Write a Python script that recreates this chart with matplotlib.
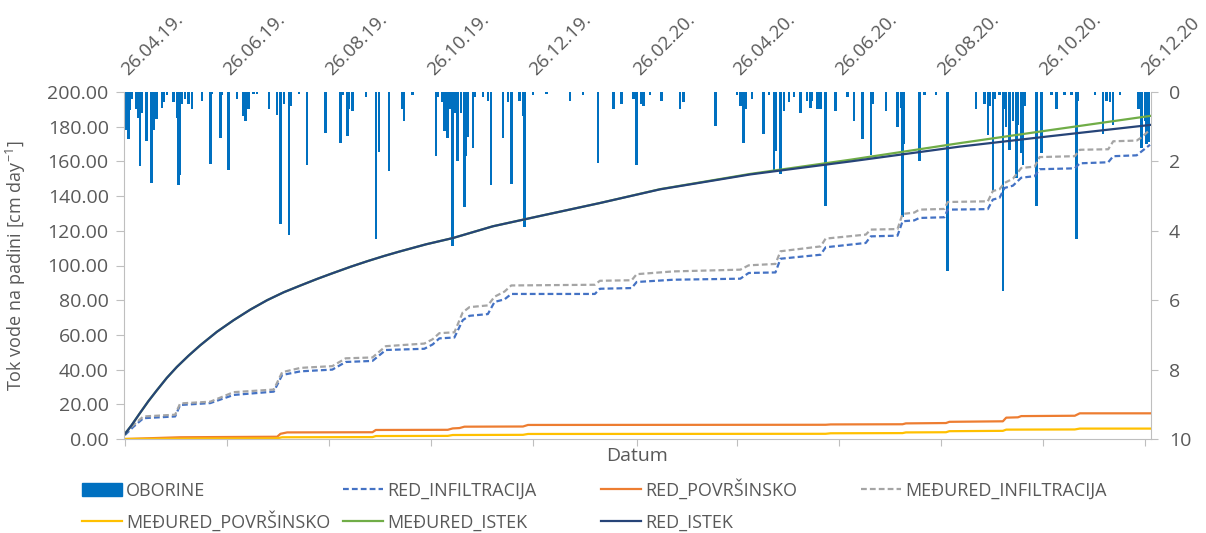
import numpy as np
import pandas as pd
import matplotlib
matplotlib.use('Agg')
from matplotlib import pyplot as plt
from matplotlib.patches import Rectangle
from matplotlib.lines import Line2D
from matplotlib.transforms import offset_copy

plt.rcParams['font.family'] = ['Open Sans', 'DejaVu Sans']
plt.rcParams['mathtext.fontset'] = 'custom'
plt.rcParams['mathtext.rm'] = 'Open Sans'
plt.rcParams['mathtext.default'] = 'regular'

# days counted from 26.04.2019
start = pd.Timestamp('2019-04-26')

# OBORINE (precipitation), right axis
rain_day = [1, 2, 3, 4, 7, 8, 9, 10, 13, 16, 17, 19, 22, 23, 25, 29, 31, 32, 33, 34,
            36, 38, 40, 46, 51, 52, 57, 58, 62, 67, 71, 72, 74, 77, 79, 86, 91, 93, 95, 98,
            99, 104, 109, 120,
            129, 130, 133, 134, 136, 144, 150, 152, 158, 166, 167, 172, 186, 187, 190, 191,
            193, 194, 196, 197, 198, 199, 201, 203, 204, 205, 208, 209, 214, 217, 219, 226,
            229, 231, 236, 238, 239, 244,
            252, 266, 274, 283, 292, 297, 304, 306, 309, 310, 314, 321, 332, 334, 353, 366,
            368, 369, 370, 371,
            375, 382, 385, 388, 389, 392, 394, 397, 400, 404, 408, 410, 411, 414, 416, 419,
            425, 432, 436, 441, 446, 447, 455, 462, 464, 465, 466, 475, 478, 485, 492,
            509, 514, 516, 517, 519, 520, 523, 525, 526, 527, 529, 531, 533, 534, 536, 537,
            538, 545, 548, 554, 557, 562, 566, 569, 570, 580, 585, 587, 589, 591, 595, 606,
            608, 610, 611, 612]
rain_mm = [1.1, 1.35, 0.52, 0.2, 0.5, 0.75, 2.13, 0.6, 1.4, 2.62, 1.1, 0.78, 0.46, 0.3, 0.1, 0.3, 0.75, 2.68, 2.39, 0.35,
           0.2, 0.36, 0.5, 0.25, 2.07, 0.07, 1.33, 0.1, 2.25, 0.2, 0.7, 0.84, 0.5, 0.07, 0.07, 0.5, 0.65, 3.8, 0.36, 4.12,
           0.4, 0.07, 2.1, 1.18,
           1.47, 0.1, 1.27, 0.5, 0.55, 0.15, 4.24, 1.73, 2.27, 0.5, 0.84, 0.1, 1.84, 0.15, 0.3, 1.12,
           1.33, 0.5, 4.44, 0.6, 0.4, 2.0, 0.6, 3.3, 1.84, 1.3, 1.6, 0.15, 0.15, 0.25, 2.68, 1.33,
           0.3, 2.65, 0.25, 0.7, 3.9, 0.1,
           0.05, 0.25, 0.1, 2.04, 0.5, 0.35, 0.2, 2.1, 0.35, 0.4, 0.1, 0.25, 0.5, 0.3, 0.98, 0.1,
           0.4, 0.4, 1.47, 0.5,
           0.2, 1.2, 0.1, 2.25, 1.7, 2.36, 0.55, 0.3, 0.15, 0.6, 0.25, 0.45, 0.25, 0.5, 0.5, 3.29,
           0.55, 0.15, 0.84, 1.35, 1.82, 0.35, 0.55, 1.0, 0.45, 3.6, 1.5, 2.0, 0.1, 0.1, 5.16,
           0.5, 0.35, 1.25, 0.4, 2.85, 0.2, 0.1, 5.74, 0.5, 1.0, 1.67, 0.84, 2.48, 0.95, 1.76, 2.1,
           0.4, 3.29, 1.76, 0.1, 0.5, 0.1, 0.1, 4.24, 0.25, 0.1, 1.2, 0.25, 0.3, 0.95, 0.1, 0.5,
           1.6, 0.85, 1.5, 1.45]

# infiltration (cumulative)
inf_day = [0, 5, 11, 30, 33, 51, 65, 89, 94, 105, 124, 132, 148, 156, 179, 184, 188, 197, 202, 206,
           217, 221, 227, 231, 281, 284, 303, 306, 328, 368, 373, 389, 392, 416, 419, 443, 446, 462, 465, 472,
           475, 490, 492, 516, 519, 523, 526, 531, 536, 544, 547, 568, 571, 588, 591, 605, 608, 613]
red_inf = [2.3, 7, 12, 13, 19.6, 20.7, 25.4, 27.3, 36.9, 39, 40, 44.4, 45, 51.3, 52, 54.5, 58, 58.5, 68.5, 71,
           72, 79, 80.5, 83.6, 83.6, 86.6, 87, 90.5, 91.8, 92.4, 95.7, 96, 103.9, 106.2, 110.5, 113, 116.8, 117.2, 125.5, 126,
           127.4, 127.8, 132.2, 132.5, 138, 139, 144.7, 146, 150.6, 151.5, 155.5, 156, 158.9, 159.5, 163, 163.5, 165.8, 169.6]
med_inf = [3.5, 8, 13, 14, 20.5, 21.5, 27, 28.5, 38.5, 41, 42, 46.5, 47, 53.5, 55, 57.5, 61, 61.5, 73, 76,
           77, 82, 85, 88.5, 88.9, 91.2, 91.5, 95, 96.6, 97.6, 100.1, 100.9, 108.2, 111, 115.5, 117.8, 120.7, 121, 129.7, 130.5,
           132.2, 132.6, 136.6, 137, 142.9, 144, 147.6, 150, 156.2, 157, 162.5, 163, 166.7, 167, 171.6, 172, 173.9, 178.3]

# surface runoff (cumulative)
red_pov_day = [0, 33, 91, 93, 97, 148, 150, 193, 196, 200, 203, 238, 241, 419, 422, 465, 467, 491, 493, 525,
               527, 534, 536, 568, 571, 613]
red_pov = [0, 1, 1.3, 3.0, 3.8, 3.9, 5.2, 5.3, 6.1, 6.3, 7.1, 7.2, 8.1, 8.2, 8.4, 8.5, 9.0, 9.2, 9.9, 10.2,
           12.3, 12.5, 13.2, 13.4, 14.8, 14.8]
med_pov_day = [0, 45, 91, 94, 148, 150, 193, 196, 238, 241, 419, 422, 465, 467, 491, 493, 525, 527, 568, 571, 613]
med_pov = [0, 0.3, 0.4, 1.0, 1.1, 1.7, 1.8, 2.3, 2.4, 2.9, 3.0, 3.3, 3.4, 3.8, 3.9, 4.5, 4.7, 5.4, 5.5, 6.0, 6.0]

# outflow (cumulative)
istek_day = [0, 4, 9, 14, 19, 25, 31, 38, 45, 55, 65, 75, 85, 95, 105, 115, 124, 135, 145, 155,
             164, 180, 196, 220, 248, 284, 320, 374, 434, 499, 553, 613]
red_istek = [2.9, 8.0, 15, 21.8, 28, 35.2, 41.5, 48, 54, 61.8, 68.5, 74.6, 80, 84.6, 88.5, 92.3, 95.5, 99.3, 102.5, 105.5,
             108, 112.2, 115.8, 122.6, 128.5, 136, 143.9, 152.5, 160, 168.5, 174.5, 181]
med_istek = [2.9, 8.0, 15, 21.8, 28, 35.2, 41.5, 48, 54, 61.8, 68.5, 74.6, 80, 84.6, 88.5, 92.3, 95.5, 99.3, 102.5, 105.5,
             108, 112.2, 115.8, 122.6, 128.5, 136, 144, 152.8, 161, 170.5, 178, 186.2]

tick_dates = ['2019-04-26', '2019-06-26', '2019-08-26', '2019-10-26', '2019-12-26', '2020-02-26',
              '2020-04-26', '2020-06-26', '2020-08-26', '2020-10-26', '2020-12-26']
tick_labels = ['26.04.19.', '26.06.19.', '26.08.19.', '26.10.19.', '26.12.19.', '26.02.20.',
               '26.04.20.', '26.06.20.', '26.08.20.', '26.10.20.', '26.12.20']


def to_dates(days):
    return start + pd.to_timedelta(days, unit='D')


grey_txt = '#595959'
grey_ax = '#bfbfbf'
c_rain = '#0070C0'
c_rinf = '#4472C4'
c_rpov = '#ED7D31'
c_minf = '#A5A5A5'
c_mpov = '#FFC000'
c_mist = '#70AD47'
c_rist = '#264478'

W, H = 1206, 533
fig = plt.figure(figsize=(W / 100, H / 100), dpi=100)
ax = fig.add_axes([124 / W, 1 - 439 / H, 1027 / W, 347 / H])
ax2 = ax.twinx()

ax2.bar(to_dates(rain_day), rain_mm, width=1.5, color=c_rain)
ax2.set_ylim(10, 0)
ax2.set_yticks(range(0, 11, 2))

ax.set_zorder(ax2.get_zorder() + 1)
ax.patch.set_visible(False)

lw = 1.6
dash = (2.6, 1.4)
ax.plot(to_dates(inf_day), red_inf, color=c_rinf, lw=lw, dashes=dash)
ax.plot(to_dates(red_pov_day), red_pov, color=c_rpov, lw=lw)
ax.plot(to_dates(inf_day), med_inf, color=c_minf, lw=lw, dashes=dash)
ax.plot(to_dates(med_pov_day), med_pov, color=c_mpov, lw=lw)
ax.plot(to_dates(istek_day), med_istek, color=c_mist, lw=lw)
ax.plot(to_dates(istek_day), red_istek, color=c_rist, lw=lw)

ax.set_ylim(0, 200)
ax.set_yticks(range(0, 201, 20))
ax.set_yticklabels([f'{v:.2f}' for v in range(0, 201, 20)])
ax.set_xlim(start - pd.Timedelta(hours=14), pd.Timestamp('2020-12-29 14:00'))
ax.set_xticks(pd.to_datetime(tick_dates))
ax.set_xticklabels([])

top_tr = offset_copy(ax.get_xaxis_transform(), fig=fig, x=3, y=0, units='dots')
for d, lab in zip(pd.to_datetime(tick_dates), tick_labels):
    ax.text(d, 1.046, lab, transform=top_tr, rotation=45,
            rotation_mode='anchor', ha='left', va='baseline', fontsize=13.5, color=grey_txt)

ax.tick_params(axis='y', length=6, pad=5, color=grey_ax, labelcolor=grey_txt, labelsize=14)
ax.tick_params(axis='x', length=5, color=grey_ax)
ax2.tick_params(axis='y', length=5, pad=8, color=grey_ax, labelcolor=grey_txt, labelsize=14)

for a in (ax, ax2):
    a.spines['top'].set_visible(False)
ax.spines['right'].set_visible(False)
ax2.spines['left'].set_visible(False)
ax2.spines['bottom'].set_visible(False)
ax.spines['left'].set_color(grey_ax)
ax.spines['bottom'].set_color(grey_ax)
ax2.spines['right'].set_color(grey_ax)

ax.set_ylabel('Tok vode na padini [cm day$^{-1}$]', fontsize=13, color=grey_txt)
ax.yaxis.set_label_coords(-0.093, 0.5)
ax.set_xlabel('Datum', fontsize=14, color=grey_txt)
ax.xaxis.set_label_coords(0.5, -0.022)

# legend drawn entry by entry, Excel-like fixed columns
entries = [
    ('OBORINE', 'bar', c_rain, None, 82, 489),
    ('RED_INFILTRACIJA', 'line', c_rinf, dash, 343, 489),
    ('RED_POVRŠINSKO', 'line', c_rpov, None, 601, 489),
    ('MEĐURED_INFILTRACIJA', 'line', c_minf, dash, 861, 489),
    ('MEĐURED_POVRŠINSKO', 'line', c_mpov, None, 82, 521),
    ('MEĐURED_ISTEK', 'line', c_mist, None, 343, 521),
    ('RED_ISTEK', 'line', c_rist, None, 601, 521),
]
for name, kind, col, ds, x, y in entries:
    fy = 1 - y / H
    if kind == 'bar':
        fig.add_artist(Rectangle((x / W, 1 - (y + 6.5) / H), 40 / W, 13 / H,
                                 transform=fig.transFigure, color=col))
    else:
        ln = Line2D([x / W, (x + 40) / W], [fy, fy], transform=fig.transFigure,
                    color=col, lw=lw)
        if ds:
            ln.set_dashes(ds)
        fig.add_artist(ln)
    fig.text((x + 44) / W, 1 - (y + 6.5) / H, name, fontsize=13, color=grey_txt,
             ha='left', va='baseline')

fig.savefig('out.png', dpi=100)
